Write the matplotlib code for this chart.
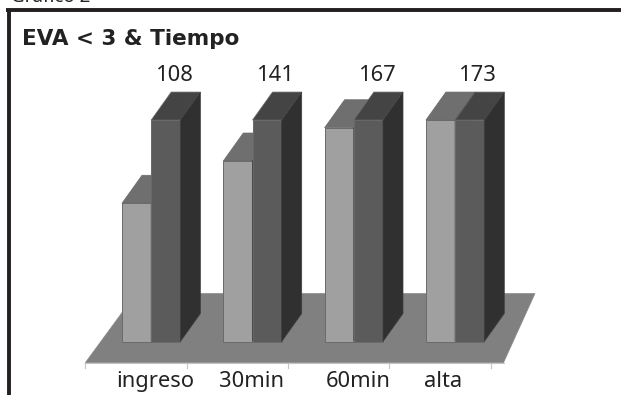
import matplotlib
matplotlib.use("Agg")
import matplotlib.pyplot as plt
from matplotlib.patches import Polygon

categories = ["ingreso", "30min", "60min", "alta"]
eva_values = [108, 141, 167, 173]
total_values = [173, 173, 173, 173]

W, H = 621, 395
fig = plt.figure(figsize=(W / 100, H / 100), dpi=100, facecolor="white")

# Axes scaled so that one category step is 101.3 px and one unit is 1.28 px
STEP_PX, UNIT_PX = 101.3, 1.28
X0_PX, Y0_PX = 122.0, 341.5
ax = fig.add_axes([0, 0, 1, 1])
ax.set_xlim(-X0_PX / STEP_PX, (W - X0_PX) / STEP_PX)
ax.set_ylim(-(H - Y0_PX) / UNIT_PX, Y0_PX / UNIT_PX)
ax.axis("off")

BAR_W = 29.2 / STEP_PX
DEPTH_X = 20.0 / STEP_PX
DEPTH_Y = 28.0 / UNIT_PX
EDGE = "#6a6a6a"


def px(x, y):
    """Pixel position measured from the top left, in data units."""
    return ((x - X0_PX) / STEP_PX, (Y0_PX - y) / UNIT_PX)


def box(left, value, front, top, side, z):
    right = left + BAR_W
    ax.add_patch(Polygon([(left, 0), (right, 0), (right, value), (left, value)],
                         fc=front, ec=EDGE, lw=0.7, zorder=z))
    ax.add_patch(Polygon([(left, value), (right, value),
                          (right + DEPTH_X, value + DEPTH_Y), (left + DEPTH_X, value + DEPTH_Y)],
                         fc=top, ec=EDGE, lw=0.5, zorder=z))
    ax.add_patch(Polygon([(right, 0), (right + DEPTH_X, DEPTH_Y),
                          (right + DEPTH_X, value + DEPTH_Y), (right, value)],
                         fc=side, ec="#3c3c3c", lw=0.5, zorder=z))


# Floor of the 3D plot
ax.add_patch(Polygon([px(85.3, 362.7), px(503.5, 362.7), px(535, 293.5), px(136, 293.5)],
                     fc="#808080", ec="#8a8a8a", lw=0.5, zorder=1))

# Tick marks under the floor front edge
for i in range(len(categories) + 1):
    xt = px(85.3 + i * STEP_PX, 0)[0]
    ax.plot([xt, xt], [px(0, 362.7)[1], px(0, 367.5)[1]], color="#c4c4c4", lw=0.8, zorder=1)
ax.plot([px(85.3, 0)[0], px(503.5, 0)[0]], [px(0, 363.2)[1]] * 2, color="#c4c4c4", lw=0.8, zorder=1)

# Light bars first, the dark ones stand beside and partly over them
for i, value in enumerate(eva_values):
    box(i, value, "#a0a0a0", "#6f6f6f", "#303030", 2 + i * 0.1)
for i, value in enumerate(total_values):
    box(i + BAR_W, value, "#5b5b5b", "#444444", "#303030", 2.05 + i * 0.1)

# Value labels above each group, category labels under the floor
TEXT = "#222222"
value_x = [175, 276, 378, 478]
label_x = [155, 252, 358, 443]
for v, x in zip(eva_values, value_x):
    ax.text(*px(x, 81), str(v), ha="center", va="baseline", fontsize=15.8,
            family="Noto Sans", color=TEXT, zorder=5)
for c, x in zip(categories, label_x):
    ax.text(*px(x, 387.3), c, ha="center", va="baseline", fontsize=15.8,
            family="Noto Sans", color=TEXT, zorder=5)

ax.text(*px(22, 45), "EVA < 3 & Tiempo", ha="left", va="baseline", fontsize=15.5,
        family="DejaVu Sans", fontweight="bold", color=TEXT, zorder=5)
ax.text(*px(11, 2.5), "Gráfico 2", ha="left", va="baseline", fontsize=13.5,
        family="Noto Sans", color=TEXT, zorder=5)

# Frame of the figure: top and left rules only
FRAME = "#231f20"
ax.plot([px(6.5, 0)[0], px(W, 0)[0]], [px(0, 10.3)[1]] * 2, color=FRAME, lw=2.8,
        solid_capstyle="butt", zorder=6)
ax.plot([px(8.5, 0)[0]] * 2, [px(0, 9)[1], px(0, H)[1]], color=FRAME, lw=2.8,
        solid_capstyle="butt", zorder=6)

fig.savefig("out.png", dpi=100, facecolor="white")
